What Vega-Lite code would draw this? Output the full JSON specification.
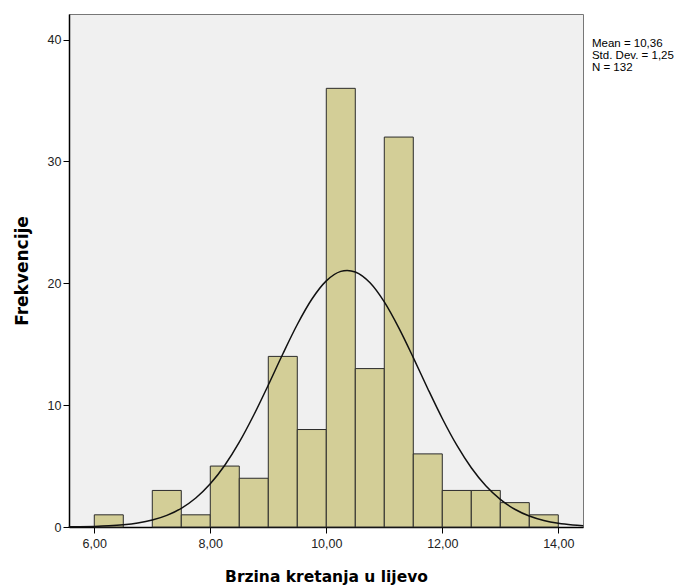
{
  "$schema": "https://vega.github.io/schema/vega-lite/v6.json",
  "width": 514,
  "height": 513,
  "autosize": {"type": "none"},
  "padding": {"left": 69, "top": 14, "right": 110, "bottom": 58},
  "background": "white",
  "config": {
    "view": {"fill": "#f0f0f0", "stroke": "#777777", "strokeWidth": 1},
    "font": "Liberation Sans"
  },
  "datasets": {
    "bins": [
      {"bin_start": 6.0, "bin_end": 6.5, "count": 1},
      {"bin_start": 7.0, "bin_end": 7.5, "count": 3},
      {"bin_start": 7.5, "bin_end": 8.0, "count": 1},
      {"bin_start": 8.0, "bin_end": 8.5, "count": 5},
      {"bin_start": 8.5, "bin_end": 9.0, "count": 4},
      {"bin_start": 9.0, "bin_end": 9.5, "count": 14},
      {"bin_start": 9.5, "bin_end": 10.0, "count": 8},
      {"bin_start": 10.0, "bin_end": 10.5, "count": 36},
      {"bin_start": 10.5, "bin_end": 11.0, "count": 13},
      {"bin_start": 11.0, "bin_end": 11.5, "count": 32},
      {"bin_start": 11.5, "bin_end": 12.0, "count": 6},
      {"bin_start": 12.0, "bin_end": 12.5, "count": 3},
      {"bin_start": 12.5, "bin_end": 13.0, "count": 3},
      {"bin_start": 13.0, "bin_end": 13.5, "count": 2},
      {"bin_start": 13.5, "bin_end": 14.0, "count": 1}
    ],
    "curve": [
      {"x": 5.56, "f": 0.013},
      {"x": 5.75, "f": 0.023},
      {"x": 6.0, "f": 0.048},
      {"x": 6.25, "f": 0.095},
      {"x": 6.5, "f": 0.179},
      {"x": 6.75, "f": 0.325},
      {"x": 7.0, "f": 0.568},
      {"x": 7.25, "f": 0.953},
      {"x": 7.5, "f": 1.537},
      {"x": 7.75, "f": 2.381},
      {"x": 8.0, "f": 3.545},
      {"x": 8.25, "f": 5.067},
      {"x": 8.5, "f": 6.96},
      {"x": 8.75, "f": 9.189},
      {"x": 9.0, "f": 11.65},
      {"x": 9.25, "f": 14.2},
      {"x": 9.5, "f": 16.62},
      {"x": 9.75, "f": 18.69},
      {"x": 10.0, "f": 20.2},
      {"x": 10.25, "f": 20.98},
      {"x": 10.36, "f": 21.06},
      {"x": 10.5, "f": 20.93},
      {"x": 10.75, "f": 20.06},
      {"x": 11.0, "f": 18.47},
      {"x": 11.25, "f": 16.34},
      {"x": 11.5, "f": 13.9},
      {"x": 11.75, "f": 11.35},
      {"x": 12.0, "f": 8.906},
      {"x": 12.25, "f": 6.714},
      {"x": 12.5, "f": 4.865},
      {"x": 12.75, "f": 3.385},
      {"x": 13.0, "f": 2.264},
      {"x": 13.25, "f": 1.455},
      {"x": 13.5, "f": 0.898},
      {"x": 13.75, "f": 0.532},
      {"x": 14.0, "f": 0.303},
      {"x": 14.25, "f": 0.166},
      {"x": 14.43, "f": 0.1}
    ],
    "stats": [
      {"label": "Mean = 10,36\nStd. Dev. = 1,25\nN = 132"}
    ]
  },
  "layer": [
    {
      "data": {"name": "bins"},
      "mark": {"type": "rect", "fill": "#d3ce97", "stroke": "#2b2b2b", "strokeWidth": 1},
      "encoding": {
        "x": {
          "field": "bin_start", "type": "quantitative",
          "scale": {"domain": [5.564, 14.426], "nice": false, "zero": false},
          "axis": {
            "values": [6, 8, 10, 12, 14],
            "labelExpr": "replace(format(datum.value, '.2f'), '.', ',')",
            "title": "Brzina kretanja u lijevo",
            "titleFont": "DejaVu Sans", "titleFontSize": 15.5, "titleFontWeight": "bold",
            "titleColor": "#000000", "titlePadding": 20,
            "labelFont": "Liberation Sans", "labelFontSize": 12.5, "labelColor": "#222222",
            "labelPadding": 4,
            "domainColor": "#000000", "domainWidth": 1.5,
            "tickColor": "#000000", "tickSize": 6, "grid": false
          }
        },
        "x2": {"field": "bin_end"},
        "y": {
          "field": "count", "type": "quantitative",
          "scale": {"domain": [0, 42.1], "nice": false},
          "axis": {
            "values": [0, 10, 20, 30, 40],
            "title": "Frekvencije",
            "titleFont": "DejaVu Sans", "titleFontSize": 17, "titleFontWeight": "bold",
            "titleColor": "#000000", "titlePadding": 16,
            "labelFont": "Liberation Sans", "labelFontSize": 12.5, "labelColor": "#222222",
            "labelPadding": 2,
            "domainColor": "#000000", "domainWidth": 1.5,
            "tickColor": "#000000", "tickSize": 6, "grid": false
          }
        },
        "y2": {"datum": 0}
      }
    },
    {
      "data": {"name": "curve"},
      "mark": {"type": "line", "color": "#111111", "strokeWidth": 1.5, "interpolate": "monotone"},
      "encoding": {
        "x": {"field": "x", "type": "quantitative"},
        "y": {"field": "f", "type": "quantitative"}
      }
    },
    {
      "data": {"name": "stats"},
      "mark": {"type": "text", "align": "left", "baseline": "top", "lineBreak": "\n", "lineHeight": 12, "fontSize": 11.5, "font": "Liberation Sans", "color": "#000000", "clip": false},
      "encoding": {
        "text": {"field": "label"},
        "x": {"datum": 14.58},
        "y": {"datum": 40.1}
      }
    }
  ]
}
